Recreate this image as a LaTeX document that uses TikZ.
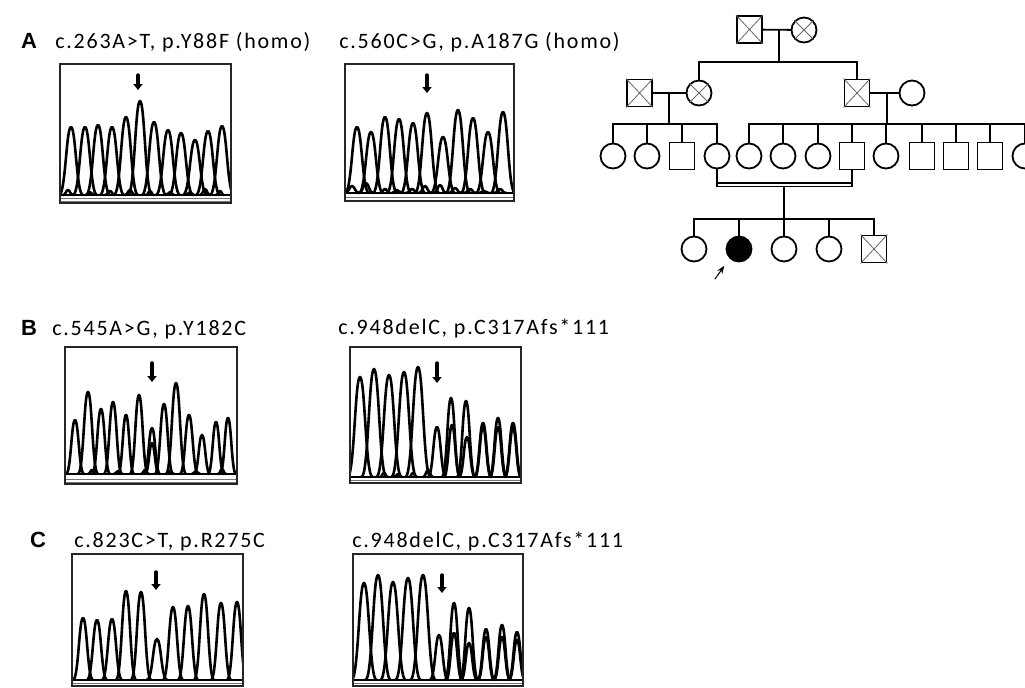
\documentclass[tikz,border=0pt]{standalone}
\usepackage{fontspec}
\newfontfamily\mutfont[LetterSpace=8]{Carlito}
\newfontfamily\panelfont{Liberation Sans}
\usetikzlibrary{arrows.meta}

% one chromatogram peak per entry x/top/halfwidth, standing on baseline #1
\newcommand{\peaks}[2]{%
  \foreach \px/\ph/\pw in {#2}
    \draw[trace] (\px-\pw,#1) .. controls (\px-0.45*\pw,#1) and (\px-0.4*\pw,\ph) .. (\px,\ph)
      .. controls (\px+0.4*\pw,\ph) and (\px+0.45*\pw,#1) .. (\px+\pw,#1);}

\tikzset{
  title/.style={font=\mutfont\fontsize{11}{13}\selectfont, anchor=base west, inner sep=0pt},
  panel/.style={font=\panelfont\bfseries\fontsize{11}{13}\selectfont, anchor=base, inner sep=0pt},
  chrom/.style={draw=black!85, line width=0.6pt},
  trace/.style={line width=1.3pt, line join=round},
  hint/.style={-{Triangle[length=3pt,width=4.5pt]}, line width=1.7pt},
  rule/.style={draw=black!55, line width=0.5pt},
  female/.style={circle, draw, minimum size=12.5pt, inner sep=0pt},
  male/.style={rectangle, draw, minimum width=12.5pt, minimum height=13.5pt, inner sep=0pt},
  cross/.style={line width=0.4pt, black!60},
}

\begin{document}
\begin{tikzpicture}[x=0.5pt, y=-0.5pt, line cap=round]
  \useasboundingbox (0,0) rectangle (1025,687);
  \clip (0,0) rectangle (1025,687);

  % ===== A =====
  \node[panel] (la) at (29,48) {A};
  \node[title] (ta1) at (55,48) {c.263A>T, p.Y88F (homo)};
  \node[title] (ta2) at (339,48) {c.560C>G, p.A187G (homo)};
  \begin{scope}
    \clip (60,64) rectangle (231,203);
    \draw[trace] (60,195) -- (231,195);
    \peaks{195}{71/127/12, 85/127/12, 98/125/12, 112/127/12, 126/117/12, 140/101/12,
      154/122/12, 168/130/12, 181/133/12, 195/140/12, 208/131/12, 222/126/12}
    \peaks{195}{68/190/5, 90/192/4, 110/191/5, 130/190/5, 150/191/4, 170/192/4, 190/192/4, 205/189/5, 220/191/4}
    \draw[rule] (60,198.5) -- (231,198.5) (60,201.5) -- (231,201.5);
  \end{scope}
  \draw[chrom] (60,64) rectangle (231,203);
  \draw[hint] (138,75) -- (138,90);

  \begin{scope}
    \clip (345,64) rectangle (514,201);
    \draw[trace] (345,193) -- (514,193);
    \peaks{193}{357/127/12, 371/132/12, 385/117/12, 399/119/12, 413/123/12, 427/113/12,
      443/137/12, 458/110/12, 473/118/12, 488/132/12, 503/112/12}
    \peaks{193}{352/186/7, 366/183/7, 385/189/5, 397/190/5, 412/189/6, 425/186/6,
      440/185/6, 455/188/6, 470/189/6, 484/191/5, 500/189/6}
    \draw[rule] (345,197) -- (514,197);
  \end{scope}
  \draw[chrom] (345,64) rectangle (514,201);
  \draw[hint] (427,75) -- (427,93);

  % ===== B =====
  \node[panel] (lb) at (29,335) {B};
  \node[title] (tb1) at (52,335) {c.545A>G, p.Y182C};
  \node[title] (tb2) at (338,334) {c.948delC, p.C317Afs*111};
  \begin{scope}
    \clip (65,347) rectangle (237,484);
    \draw[trace] (65,474) -- (237,474);
    \peaks{474}{75/420/9, 88/392/10, 101/409/9, 113/402/9, 126/415/8, 139/395/9, 152/428/8,
      164/404/9, 176/383/10, 189/415/9, 202/435/8, 216/422/8, 228/418/8}
    \peaks{474}{152/443/7}
    \peaks{474}{92/470/4, 118/471/4, 145/470/4, 170/471/4, 196/471/4, 222/469/4}
    \draw[rule] (65,479) -- (237,479) (65,482) -- (237,482);
  \end{scope}
  \draw[chrom] (65,347) rectangle (237,484);
  \draw[hint] (152,363) -- (152,382);

  \begin{scope}
    \clip (350,347) rectangle (521,483);
    \draw[trace] (350,477) -- (521,477);
    \peaks{477}{360/377/12.5, 374/369/12.5, 389/375/12.5, 404/372/12.5, 418/367/12.5}
    \peaks{477}{437/427/9, 451/398/9, 466/401/9, 483/423/8.5, 498/418/8.5, 513/423/8.5}
    \peaks{477}{452/425/8, 467/437/8, 483/427/8, 498/427/8, 513/428/8}
    \peaks{477}{384/473/4, 398/474/4, 413/473/4, 428/470/5}
    \draw[rule] (350,480.5) -- (521,480.5);
  \end{scope}
  \draw[chrom] (350,347) rectangle (521,483);
  \draw[hint] (437,363) -- (437,383);

  % ===== C =====
  \node[panel] (lc) at (38,547) {C};
  \node[title] (tc1) at (74,547) {c.823C>T, p.R275C};
  \node[title] (tc2) at (352,547) {c.948delC, p.C317Afs*111};
  \begin{scope}
    \clip (72,554) rectangle (243,686);
    \draw[trace] (72,680) -- (243,680);
    \peaks{680}{83/618/10, 97/620/10, 112/619/10, 126/591/10, 141/592/10, 157/639/10,
      173/607/10, 188/606/10, 204/594/10, 221/603/10, 237/602/10}
    \draw[rule] (72,683.5) -- (243,683.5);
  \end{scope}
  \draw[chrom] (72,554) rectangle (243,686);
  \draw[hint] (156,572) -- (156,590);

  \begin{scope}
    \clip (353,554) rectangle (523,686);
    \draw[trace] (353,680) -- (523,680);
    \peaks{680}{364/583/12.5, 378/575/12.5, 393/582/12.5, 408/578/12.5, 423/575/12.5}
    \peaks{680}{439/635/9, 454/603/9, 469/608/9, 486/629/8.5, 502/625/8.5, 517/632/8.5}
    \peaks{680}{454/633/8, 469/643/8, 486/637/8, 502/637/8, 517/640/8}
    \draw[rule] (353,683.5) -- (523,683.5);
  \end{scope}
  \draw[chrom] (353,554) rectangle (523,686);
  \draw[hint] (442,575) -- (442,593);

  % ===== pedigree =====
  \begin{scope}[line width=0.9pt]
    \node[male] (i1) at (749.5,29.5) {};
    \node[female] (i2) at (804,30) {};
    \node[male] (ii1) at (639.5,93) {};
    \node[female] (ii2) at (699,93) {};
    \node[male] (ii3) at (857,93) {};
    \node[female] (ii4) at (912,93) {};
    \foreach \n/\x/\s in {1/613/female, 2/647/female, 3/682/male, 4/717/female, 5/749/female,
      6/783/female, 7/818/female, 8/852/male, 9/886/female, 10/922/male, 11/956/male,
      12/990/male, 13/1025/female}
      \node[\s] (iii\n) at (\x,156) {};
    \foreach \n/\x/\s/\f in {1/694/female/white, 2/739/female/black, 3/784/female/white,
      4/829/female/white, 5/874/male/white}
      \node[\s, fill=\f] (iv\n) at (\x,249) {};

    \foreach \n in {i1,i2,ii1,ii2,ii3,iv5}
      \draw[cross] (\n.north west) -- (\n.south east) (\n.north east) -- (\n.south west);

    % generation I -> II
    \coordinate (m1) at (779,30);
    \coordinate (s1) at (779,62);
    \draw (i1) -- (i2);
    \draw (m1) -- (s1);
    \draw (ii2) |- (s1) -| (ii3);

    % generation II -> III
    \coordinate (m2) at (669,93);
    \coordinate (s2) at (669,124);
    \draw (ii1) -- (ii2);
    \draw (m2) -- (s2);
    \draw (iii1) |- (s2) -| (iii4);
    \foreach \n in {2,3} \draw (iii\n) -- (iii\n |- s2);

    \coordinate (m3) at (887,93);
    \coordinate (s3) at (887,124);
    \draw (ii3) -- (ii4);
    \draw (m3) -- (s3);
    \draw (iii5) |- (s3) -| (iii13);
    \foreach \n in {6,...,12} \draw (iii\n) -- (iii\n |- s3);

    % consanguineous couple -> IV
    \coordinate (c1) at (784,183);
    \coordinate (c2) at (784,186.5);
    \coordinate (s4) at (784,219);
    \draw (iii4) |- (c2) -| (iii8);
    \draw (iii4 |- c1) -- (iii8 |- c1);
    \draw (c2) -- (s4);
    \draw (iv1) |- (s4) -| (iv5);
    \foreach \n in {2,3,4} \draw (iv\n) -- (iv\n |- s4);

    % proband
    \coordinate (pa) at (715,279);
    \draw[-{Stealth[length=4pt]}, line width=0.5pt, shorten >=4.5pt] (pa) -- (iv2.south west);
  \end{scope}
\end{tikzpicture}
\end{document}
